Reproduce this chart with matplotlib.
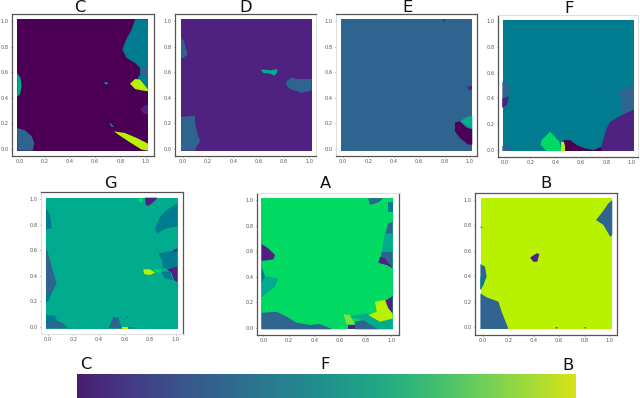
import numpy as np
import matplotlib
matplotlib.use('Agg')
import matplotlib.pyplot as plt

W, H = 640, 398

#colours of the classes
class_colors = {'C': '#4b0055', 'D': '#4f2180', 'E': '#2f6490', 'F': '#007b8f',
                'G': '#00ab8e', 'A': '#00da62', 'L': '#7fe040', 'B': '#b8f200'}

ticks = [0.0, 0.2, 0.4, 0.6, 0.8, 1.0]
square_x = [-0.016, 1.018, 1.018, -0.016]
square_y = [-0.013, -0.013, 1.013, 1.013]

#regions of each map : (class, x, y)
regions_C = [
    ('F', [.916, .889, .844, .815, .85, .916, .955, .955, .93, 1.018, 1.018], [1.013, .932, .854, .776, .711, .672, .633, .581, .542, .464, 1.013]),
    ('E', [.955, 1.018, 1.018, .968], [.633, .633, .555, .581]),
    ('B', [.876, .916, .955, .995, 1.018, 1.018, .968, .916], [.51, .547, .542, .495, .464, .451, .458, .469]),
    ('B', [.749, .836, .929, 1.018, 1.018, .968, .863, .784], [.138, .125, .086, .042, -.013, -.005, .06, .112]),
    ('D', [.955, .995, 1.018, 1.018, .98], [.307, .346, .338, .268, .281]),
    ('G', [-.016, .01, .018, .005, -.016], [.594, .555, .49, .425, .411]),
    ('E', [-.016, .045, .098, .119, .106, -.016], [.164, .146, .099, .047, -.013, -.013]),
    ('G', [.665, .705, .69], [.52, .52, .503]),
    ('E', [.71, .73, .749, .73], [.203, .198, .172, .172]),
]
regions_D = [
    ('E', [-.013, .011, .037, .005, -.013], [.867, .841, .737, .711, .711]),
    ('E', [-.013, .097, .097, .116, .137, .111, .097, -.013], [.25, .26, .203, .125, .06, .021, -.013, -.013]),
    ('G', [.616, .65, .689, .747, .747, .726, .689, .637], [.62, .62, .615, .625, .6, .573, .589, .594]),
    ('E', [.821, .861, .9, 1.018, 1.018, .94, .847, .816], [.529, .56, .547, .547, .458, .438, .469, .503]),
]
regions_E = [
    ('C', [.882, .921, .974, 1.018, 1.018, .987, .921, .882], [.208, .216, .164, .156, .034, .034, .086, .138]),
    ('G', [.921, .974, 1.018, 1.018, .974], [.216, .25, .26, .156, .177]),
    ('D', [.785, .805, .795], [1.013, 1.013, .985]),
    ('D', [.975, 1.015, 1.015, .99], [.485, .495, .465, .46]),
]
regions_F = [
    ('E', [-.021, .026, .045, .013, .026, 0, -.021], [.53, .504, .452, .413, .374, .335, .33]),
    ('D', [-.021, .032, .013, -.013, -.021], [.40, .413, .348, .33, .33]),
    ('E', [-.021, .026, .053, -.021], [.03, .03, -.01, -.01]),
    ('A', [.355, .382, .429, .447, .329, .282, .289, .329], [.14, .114, .062, -.01, -.01, .036, .075, .114]),
    ('B', [.439, .474, .474, .439], [.062, .062, -.01, -.01]),
    ('C', [.461, .513, .566, .632, .697, .763, .763, .474, .474], [.075, .075, .036, .01, -.003, .023, -.01, -.01, .029]),
    ('D', [.763, .763, .797, .829, .921, 1.018, 1.018], [-.01, .036, .153, .218, .27, .314, -.01]),
    ('E', [.882, .947, 1.018, 1.018, .921, .921], [.426, .478, .504, .314, .27, .4]),
    ('E', [.763, .803, .79], [.439, .444, .426]),
]
regions_G = [
    ('A', [.716, .742, .742, .716], [1.013, 1.013, .982, .982]),
    ('D', [.76, .857, .831, .786, .766], [1.013, 1.013, .982, .948, .956]),
    ('F', [1.013, 1.013, .93, .852, .839, .878, .93], [.969, .786, .773, .734, .773, .864, .916]),
    ('F', [-.013, .018, .031, -.013], [.93, .877, .773, .765]),
    ('E', [-.013, .031, .07, .031, -.013], [.629, .473, .342, .264, .251]),
    ('F', [-.013, .031, .005, -.013], [.251, .264, .198, .198]),
    ('F', [-.013, .057, .075, -.013], [.094, .089, .047, .029]),
    ('E', [-.013, .075, .122, .156, -.013], [.029, .047, .029, -.01, -.01]),
    ('E', [.513, .552, .578, .474], [.076, .076, -.01, -.01]),
    ('B', [.578, .63, .63, .578], [.003, .003, -.013, -.013]),
    ('E', [.63, .695, .63], [0, -.008, -.013]),
    ('F', [.865, 1.008, 1.013, .904, .891], [.577, .603, .46, .46, .525]),
    ('D', [.98, 1.013, 1.013, .98], [.603, .615, .59, .59]),
    ('D', [.93, 1.013, 1.013, .987, .969], [.452, .473, .35, .368, .42]),
    ('F', [.885, .956, .977, .917], [.433, .433, .368, .381]),
    ('A', [.826, .885, .885, .839], [.452, .452, .433, .426]),
    ('B', [.747, .799, .839, .799, .753], [.452, .452, .426, .407, .415]),
    ('D', [.61, .625, .62], [.083, .08, .07]),
]
regions_A = [
    ('D', [-.013, .039, .092, .078, -.013], [.655, .621, .569, .535, .522]),
    ('G', [-.013, .013, .117, .091, -.013], [.504, .405, .386, .321, .238]),
    ('F', [-.013, .013, -.013], [.465, .405, .347]),
    ('E', [-.013, .105, .183, .261, .366, .444, .543, -.013], [.117, .125, .086, .039, .021, .029, -.013, -.013]),
    ('E', [.822, .94, .901, .835], [1.013, 1.013, .982, .961]),
    ('F', [.979, 1.013, 1.013, .979], [.987, .987, .909, .909]),
    ('E', [.979, 1.013, 1.013, .953], [.817, .83, .726, .726]),
    ('G', [.953, 1.013, 1.013, .927, .94], [.739, .739, .595, .595, .674]),
    ('E', [.927, 1.013, 1.013, .979, .914], [.595, .595, .465, .491, .504]),
    ('D', [.914, .953, 1.013, .966, .901], [.556, .543, .465, .491, .509]),
    ('D', [.945, 1.013, 1.013, .979], [.204, .248, .112, .151]),
    ('G', [.64, .822, .914, 1.013, 1.013, .901, .783], [.086, .112, .047, .068, -.013, -.013, .06]),
    ('B', [.874, .953, .979, 1.013, 1.013, .914, .822, .888], [.204, .217, .151, .107, .073, .047, .099, .125]),
    ('E', [.718, .783, .901, .718], [.047, .06, -.013, -.013]),
    ('L', [.627, .679, .718, .653], [.107, .099, .026, .026]),
    ('D', [.666, .718, .718, .666], [.021, .021, -.013, -.013]),
]
regions_B = [
    ('E', [1.018, .987, .942, .89, .948, .987, 1.0, 1.018], [.997, .971, .906, .841, .802, .736, .71, .723]),
    ('D', [.372, .424, .445, .429, .398], [.546, .58, .574, .514, .514]),
    ('E', [-.018, .018, .031, .005, -.018], [.496, .475, .397, .332, .292]),
    ('F', [-.018, .018, .005, -.018], [.397, .397, .332, .292]),
    ('E', [-.018, .031, .123, .149, .202, -.018], [.266, .235, .201, .123, -.013, -.013]),
    ('G', [-.018, .003, -.013], [.793, .783, .775]),
    ('D', [.57, .59, .58], [0, 0, -.013]),
    ('D', [.797, .813, .805], [0, 0, -.013]),
]

panel_names = ['C', 'D', 'E', 'F', 'G', 'A', 'B']
panel_regions = [regions_C, regions_D, regions_E, regions_F, regions_G, regions_A, regions_B]

#frame in pixels (left, right, top, bottom) and pixel of the 0 and 1 ticks
frames = [(12, 154, 14, 156), (175, 316, 14, 156), (336, 477, 14, 156), (498, 638, 15, 157),
          (41, 183, 192, 334), (257, 399, 193, 335), (475, 617, 193, 335)]
tick_px = [(19.3, 145.7, 149, 21), (182.7, 309.3, 149, 21), (342.7, 470, 149, 21), (505, 631.7, 149.7, 21.3),
           (47.7, 175.7, 327, 199.3), (263.3, 391, 327.7, 200), (482.7, 610, 327.3, 199.7)]
#sides of the frame that stay dark, the others are almost gone in the picture
dark_sides = [('top', 'bottom', 'left', 'right'), ('top', 'bottom', 'left'), ('top', 'bottom', 'right'),
              ('left', 'bottom'), ('top', 'right'), ('bottom', 'left', 'right'), ('top', 'bottom', 'left', 'right')]
#title centre and baseline, pixels
title_px = [(80, 12.5), (246, 12.5), (408, 12.5), (569, 13), (110, 187.5), (325, 187.5), (546, 188)]

bar_labels = ['C', 'F', 'B']
bar_label_x = [86, 325, 568]
bar_label_y = [369, 369, 370]

fig = plt.figure(figsize=(W/100, H/100), dpi=100)

for name, regions, fr, tp, dark, tpos in zip(panel_names, panel_regions, frames, tick_px, dark_sides, title_px):
    l, r, t, b = fr
    x0, x1, y0, y1 = tp
    ax = fig.add_axes([l/W, 1-b/H, (r-l)/W, (b-t)/H])
    ax.fill(square_x, square_y, color=class_colors[name], lw=0)
    for c, xs, ys in regions:
        ax.fill(xs, ys, color=class_colors[c], lw=0)
    ax.set_xlim((l-x0)/(x1-x0), (r-x0)/(x1-x0))
    ax.set_ylim((b-y0)/(y1-y0), (t-y0)/(y1-y0))
    ax.set_xticks(ticks)
    ax.set_yticks(ticks)
    ax.tick_params(labelsize=3.6, length=1, width=0.5, pad=1.5, colors='#555555')
    for side, s in ax.spines.items():
        s.set_color('#555555' if side in dark else '#dddddd')
        s.set_linewidth(0.9 if side in dark else 0.7)
    fig.text(tpos[0]/W, 1-tpos[1]/H, name, ha='center', va='baseline', fontsize=11.8, color='#111111')

#colour bar
cax = fig.add_axes([77/W, 1-397.5/H, 499/W, 23.5/H])
ramp = np.linspace(0.08, 0.94, 256).reshape(1, -1)
cax.imshow(ramp, cmap='viridis', vmin=0, vmax=1, aspect='auto')
cax.axis('off')
for lab, px, py in zip(bar_labels, bar_label_x, bar_label_y):
    fig.text(px/W, 1-py/H, lab, ha='center', va='baseline', fontsize=11.8, color='#111111')

fig.savefig('out.png', dpi=100)
